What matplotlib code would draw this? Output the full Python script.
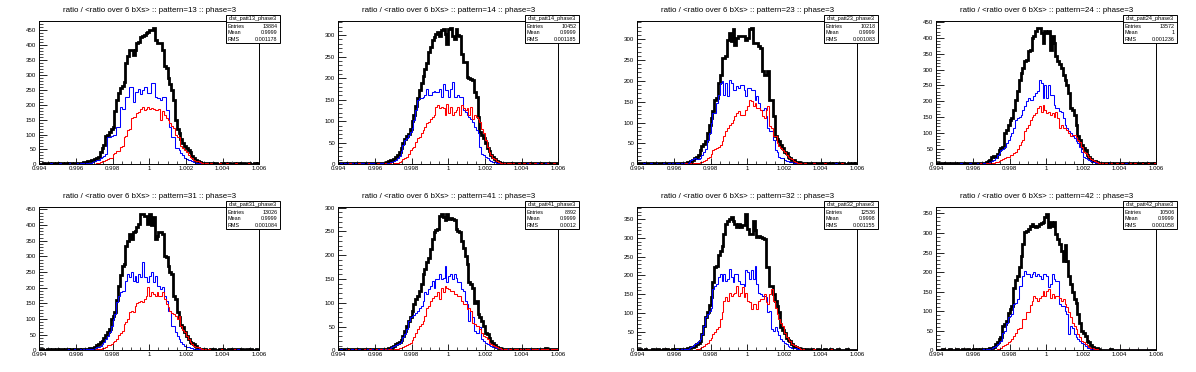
import matplotlib
matplotlib.use("Agg")
import matplotlib.pyplot as plt
import numpy as np
from matplotlib.ticker import MultipleLocator, FixedLocator, FixedFormatter
from matplotlib.patches import Rectangle

plt.rcParams['font.family'] = ['Liberation Sans', 'DejaVu Sans']

# ---------------- data ----------------
x_min, x_max, n_bins = 0.994, 1.006, 120
xtick_vals = [0.994, 0.996, 0.998, 1.0, 1.002, 1.004, 1.006]
xtick_labels = ["0.994", "0.996", "0.998", "1", "1.002", "1.004", "1.006"]

patterns = ["13", "14", "23", "24", "31", "41", "32", "42"]
entries = ["13884", "10452", "10218", "13572", "13026", "8892", "12536", "10506"]
means = ["0.9999", "0.9999", "0.9999", "1", "0.9999", "0.9999", "0.9998", "0.9999"]
rms = ["0.001178", "0.001185", "0.001083", "0.001236", "0.001084", "0.0012", "0.001155", "0.001058"]

p13_black = [2,1,3,2,2,4,1,3,2,3,2,4,3,2,3,1,3,4,2,3,3,4,5,6,8,
             8,10,12,14,15,17,20,25,40,55,65,95,100,110,118,126,180,215,240,255,
             262,275,339,365,384,384,366,385,406,410,428,430,435,440,445,450,452,458,416,406,
             406,406,383,330,322,290,270,250,215,150,120,105,85,70,60,55,48,40,28,22,
             15,12,8,6,5,4,
             3,2,3,4,2,3,1,2,3,2,4,2,3,2,1,3,2,3,2,4,3,2,2,3,1,2,3,2,3]
p13_blue = [1,2,1,0,2,1,3,1,2,1,2,3,1,2,2,1,3,2,1,2,3,2,3,3,4,4,5,
            5,6,8,10,14,16,20,23,28,35,90,92,95,100,98,126,126,192,185,185,
            225,225,260,260,210,244,244,254,237,248,260,260,238,238,272,272,227,221,221,215,
            227,227,182,182,126,93,93,54,54,48,37,30,22,18,15,15,12,9,6,4,3,
            2,2,1,3,1,2,1,0,2,1,1,2,0,1,2,1,1,0,2,1,1,2,1,0,1,2,1,1,0,1,2,1]
p13_red = [0,1,0,1,2,0,1,1,0,2,1,0,1,2,1,0,1,1,2,0,1,2,1,1,2,1,2,1,2,2,
           2,3,5,8,10,12,15,18,20,22,35,37,43,43,58,60,92,95,115,118,
           154,160,160,171,175,187,192,182,187,192,185,190,185,182,182,187,150,180,165,155,
           150,140,130,122,100,93,90,62,55,48,40,32,26,20,16,12,10,8,6,5,4,
           3,2,3,1,2,2,1,3,2,1,2,3,1,2,1,2,3,1,2,1,2,2,1,3,2,1,2,1,2]

p14_black = [3,2,2,3,1,4,2,3,2,3,4,2,3,2,3,4,2,3,3,2,4,3,3,4,3,
             4,5,7,9,10,12,18,22,28,37,50,58,65,70,83,100,114,135,155,172,
             190,205,222,235,262,272,288,296,303,307,299,311,315,303,280,315,317,299,292,315,
             300,299,257,238,238,203,200,199,195,168,157,110,76,68,60,49,37,30,22,16,
             12,8,6,4,3,
             3,2,3,2,1,3,2,3,2,1,3,2,2,3,1,2,3,2,2,3,1,2,2,3,2,1,3,2,2,3]
p14_blue = [1,2,1,2,0,2,1,3,1,2,2,1,2,3,1,2,1,3,2,2,1,3,2,2,3,3,
            3,4,5,6,7,10,15,20,30,45,56,62,68,75,85,103,126,149,153,155,
            157,160,176,160,160,168,170,168,168,176,157,187,172,172,157,176,191,157,157,160,
            157,157,126,122,114,110,106,99,87,80,72,41,25,22,18,14,10,8,6,5,4,3,
            2,1,2,1,0,1,2,1,1,0,2,1,1,0,1,2,1,0,1,1,2,1,0,1,1,2,1,0,1,1,0,1]
p14_red = [0,1,0,1,1,0,2,1,0,1,1,2,0,1,1,0,2,1,1,0,1,2,1,1,0,2,1,1,2,1,
           2,2,4,6,8,12,15,18,25,33,38,41,52,60,64,72,80,87,95,99,
           106,110,114,133,137,130,133,130,114,141,118,133,114,122,126,133,114,137,130,126,
           130,114,133,106,114,110,106,99,83,72,56,41,29,22,14,12,8,5,3,2,
           2,1,2,3,1,2,1,1,2,0,1,2,1,1,2,1,0,2,1,1,2,1,1,0,2,1,1,2,1,1]

p23_black = [2,3,2,1,3,2,2,3,1,2,3,2,2,1,3,2,3,2,2,3,2,3,2,3,3,
             3,4,5,6,9,10,14,18,22,35,43,49,55,75,95,110,127,155,159,195,
             215,255,255,259,299,315,295,323,287,303,307,307,308,307,299,303,323,327,291,291,
             291,283,279,223,215,215,223,155,155,115,67,60,55,47,39,30,26,18,14,10,
             10,6,5,5,3,2,
             2,1,2,3,1,2,1,2,2,1,2,1,3,1,2,1,2,1,2,2,1,2,1,1,2,1,2,1,2]
p23_blue = [1,0,1,2,1,1,0,2,1,1,2,1,0,1,2,1,1,2,1,2,1,2,2,1,2,3,3,
            4,6,10,12,14,12,12,16,22,30,36,58,75,100,123,123,147,167,195,199,
            167,195,163,203,195,179,179,187,183,191,191,179,163,183,183,179,179,155,163,147,
            131,131,135,115,87,79,79,58,34,30,18,16,14,10,9,7,6,5,4,3,2,
            1,2,1,0,1,1,0,1,2,1,0,1,1,0,1,0,1,1,0,1,2,0,1,1,0,1,0,1,1,0,1,1]
p23_red = [0,0,1,0,1,0,0,1,0,1,0,1,1,0,0,1,0,1,0,1,1,0,1,1,0,1,2,1,1,2,
           2,2,3,4,5,6,8,10,14,18,25,34,36,38,42,47,55,67,80,87,
           95,99,107,115,123,127,119,119,119,131,139,155,151,139,147,135,135,131,115,111,
           131,139,91,87,67,67,51,43,40,34,30,22,17,14,12,8,6,4,3,2,
           1,2,1,0,1,1,2,0,1,1,0,1,2,1,0,1,1,0,1,1,0,2,1,0,1,1,0,1,1,0]

p24_black = [3,2,4,3,2,3,4,2,3,3,4,2,3,4,3,2,4,3,5,3,4,3,5,4,
             4,4,5,8,10,15,24,26,24,33,45,51,56,98,110,125,140,146,173,204,
             231,268,290,305,326,331,358,363,400,406,421,432,432,416,385,421,416,421,363,406,
             385,342,326,316,305,284,268,250,226,178,173,157,125,88,77,60,51,46,30,24,
             16,12,10,8,5,4,
             4,3,3,2,4,3,2,3,4,3,5,4,3,4,5,4,3,2,4,3,3,4,2,3,3,2,4,3,2,3]
p24_blue = [1,2,1,2,1,0,2,1,2,1,2,2,1,3,2,1,2,2,3,1,2,2,3,2,3,3,3,4,
            4,6,10,14,19,28,35,46,50,56,67,77,90,100,114,141,145,151,157,173,
            183,199,210,204,204,215,226,231,268,257,210,252,210,252,220,220,188,178,178,170,
            167,146,125,114,104,100,88,83,75,67,56,40,24,19,16,14,10,8,6,5,4,
            3,2,2,1,2,3,1,2,1,2,1,2,2,1,3,2,1,1,2,1,2,1,1,2,1,0,1,2,1,1,2]
p24_red = [0,1,1,0,2,1,0,1,2,1,1,0,2,1,1,2,0,1,2,1,1,2,1,2,3,1,2,3,2,3,
           3,5,6,8,11,14,17,19,22,24,28,30,35,40,50,61,70,77,104,115,
           125,141,150,157,162,178,183,167,188,173,162,167,157,162,151,167,146,114,125,114,
           114,109,98,88,93,93,85,77,72,56,40,35,30,22,16,13,10,7,5,4,
           3,2,3,1,2,3,2,1,3,2,2,3,1,2,2,3,1,2,3,2,2,1,3,2,2,3,1,2,2,3]

p31_black = [2,3,2,2,4,3,2,3,2,3,2,4,3,2,3,3,2,3,2,3,4,3,2,3,
             3,4,5,6,8,8,10,16,19,25,30,40,50,57,67,99,110,121,160,206,
             240,270,276,334,350,372,356,377,382,395,404,436,436,430,430,405,436,400,425,356,
             366,377,377,372,302,297,270,250,244,174,163,121,105,80,73,57,46,35,28,22,
             19,14,8,5,4,3,
             3,2,2,3,2,3,2,1,3,2,3,2,2,3,2,4,3,5,3,2,3,2,2,3,2,3,2,2,3,2]
p31_blue = [1,1,2,1,2,0,1,2,1,1,2,1,2,1,2,3,1,2,2,3,2,2,3,2,3,3,4,4,
            4,5,7,10,12,14,20,25,35,45,57,78,99,115,153,174,185,190,190,222,
            244,233,249,222,238,217,244,233,281,233,233,217,238,249,217,238,206,206,196,201,
            174,158,126,126,78,78,57,45,35,25,19,14,10,9,7,6,5,5,4,3,
            2,3,1,2,1,2,1,2,2,1,1,2,1,2,1,1,2,1,2,1,3,1,1,2,1,1,2,1,1,2,1,1]
p31_red = [0,1,0,1,1,0,1,2,0,1,1,0,1,2,1,0,1,1,2,1,1,2,1,1,2,1,2,2,1,2,
           2,3,4,5,6,8,12,16,18,19,25,30,35,48,55,62,83,89,100,121,
           126,121,142,150,153,158,153,163,174,201,174,185,179,174,185,174,174,185,163,147,
           137,126,120,115,110,99,110,78,65,57,46,35,25,19,14,11,9,7,5,4,3,
           2,3,2,1,2,2,1,2,3,1,2,1,2,2,1,3,2,1,2,2,1,2,1,2,2,1,2,1,2]

p41_black = [2,1,3,2,2,1,3,2,2,3,1,2,3,2,2,3,2,1,3,2,2,3,2,3,
             3,3,3,4,5,6,10,13,16,18,22,30,41,51,62,69,83,97,107,115,
             125,140,160,171,185,195,213,234,248,252,255,283,287,280,273,287,276,278,276,273,
             255,250,248,230,216,199,181,143,140,132,100,104,76,70,62,51,37,34,25,20,
             16,11,6,5,4,3,
             2,3,2,1,2,3,2,2,1,3,2,2,1,2,3,2,2,3,1,2,2,3,2,4,2,3,2,2,3,2]
p41_blue = [1,2,1,1,2,1,0,2,1,2,1,2,1,1,2,2,1,3,2,1,2,3,2,2,3,2,3,3,
            4,6,8,11,14,16,20,27,35,44,62,69,72,75,79,83,90,93,104,122,
            118,129,136,146,132,150,150,160,150,153,178,143,157,160,150,160,153,143,143,129,
            125,104,97,62,83,70,41,37,37,48,23,20,16,14,11,9,7,6,5,4,
            3,2,2,1,2,1,2,1,1,2,1,2,1,1,2,1,2,1,1,3,1,2,1,2,1,1,2,1,3,1,2,1]
p41_red = [0,1,1,0,1,2,0,1,1,2,1,0,1,1,2,0,1,2,1,1,2,1,1,2,1,2,1,2,2,1,
           2,2,3,4,5,6,8,11,14,16,22,27,37,44,51,55,62,72,90,93,
           104,111,115,115,122,107,132,122,136,132,129,125,125,118,118,115,115,104,97,97,
           86,90,83,58,55,51,51,44,37,30,27,23,16,13,11,8,6,5,4,3,
           2,3,1,2,2,1,3,2,1,2,2,1,3,2,1,2,1,2,3,1,2,2,1,3,2,1,2,2,1,2]

p32_black = [2,3,1,2,3,2,2,1,3,2,2,3,2,1,3,2,3,2,2,3,2,3,3,2,3,
             3,4,5,6,8,10,12,16,20,25,43,65,88,101,120,141,181,221,226,253,
             265,279,311,338,346,351,355,346,338,329,338,329,333,333,364,324,311,311,346,320,
             302,306,302,300,297,221,221,172,172,150,132,119,101,61,55,47,34,28,25,16,
             12,9,7,5,4,3,
             2,3,2,2,3,1,2,3,2,2,1,3,2,2,3,2,1,2,3,2,2,1,2,3,2,2,1,2,2]
p32_blue = [1,2,1,0,2,1,2,1,1,2,1,2,0,1,2,1,2,1,2,2,1,3,2,2,3,3,3,
            4,5,8,12,16,20,25,29,43,65,88,96,105,114,163,172,177,195,204,186,
            204,186,190,217,195,181,204,204,186,177,177,172,213,208,190,213,190,226,177,154,
            150,146,146,141,101,105,56,52,61,52,40,29,25,20,16,12,10,7,6,5,4,
            3,2,1,2,1,2,1,1,2,0,1,2,1,1,0,2,1,1,2,1,0,1,2,1,1,2,0,1,1,2,1,1]
p32_red = [0,1,0,1,1,0,2,1,0,1,1,2,0,1,1,0,1,2,1,0,1,1,2,1,1,0,2,1,1,2,1,
           2,3,4,5,8,12,16,20,28,34,43,50,56,61,83,101,132,141,132,154,
           146,150,154,172,146,154,168,141,154,132,128,110,123,123,110,132,137,137,150,128,
           123,150,163,132,114,96,83,74,65,47,35,29,25,18,14,12,8,6,4,3,
           2,1,2,2,1,3,1,2,1,2,2,1,2,1,3,2,1,2,1,2,2,1,2,1,2,1,2,2,1]

p42_black = [2,1,2,3,2,1,2,3,2,2,1,3,2,2,3,1,2,3,2,2,3,2,3,2,3,3,2,
             3,4,5,6,8,16,22,28,33,62,67,75,95,105,114,160,180,190,212,242,
             272,302,306,311,318,324,319,315,319,324,326,328,341,349,315,328,319,328,298,285,
             272,255,229,268,229,191,170,148,131,122,92,71,50,45,37,24,20,13,9,6,
             5,3,2,
             2,1,2,2,1,3,1,2,2,1,2,1,1,2,2,1,2,1,1,2,1,2,1,1,2,1,2,1,1,2]
p42_blue = [1,0,1,2,1,1,0,1,2,1,1,0,2,1,1,2,1,0,2,1,1,2,1,2,2,3,2,3,3,
            4,6,8,12,15,20,24,45,50,70,84,88,92,118,122,130,165,165,191,204,
            195,195,187,195,199,191,195,191,182,195,195,191,161,169,195,182,178,178,118,114,
            114,101,92,41,62,58,41,35,28,24,18,15,10,7,5,4,3,
            2,1,2,1,0,1,1,0,1,2,0,1,1,0,1,1,0,2,1,0,1,1,0,1,0,1,1,0,1,1,0,1,0,1]
p42_red = [0,0,1,0,1,0,1,1,0,1,0,1,1,0,1,0,1,1,0,1,2,0,1,1,0,1,1,2,1,1,2,1,
           2,3,4,7,11,13,15,20,24,28,37,45,54,58,58,80,80,97,97,115,
           127,140,135,127,135,140,152,140,152,157,135,144,135,140,140,135,127,131,118,110,
           97,84,71,62,54,41,33,24,20,15,13,9,7,5,3,3,
           2,1,1,0,1,2,1,0,1,1,0,1,2,0,1,1,0,1,1,0,2,1,0,1,1,0,1,1,0,1,1,0]

black_series = [p13_black, p14_black, p23_black, p24_black, p31_black, p41_black, p32_black, p42_black]
blue_series = [p13_blue, p14_blue, p23_blue, p24_blue, p31_blue, p41_blue, p32_blue, p42_blue]
red_series = [p13_red, p14_red, p23_red, p24_red, p31_red, p41_red, p32_red, p42_red]


def fix(v):
    v = list(v)[:n_bins]
    return np.array(v + [0] * (n_bins - len(v)), dtype=float)


# ---------------- layout ----------------
W, H = 1196, 372
fig = plt.figure(figsize=(W / 100, H / 100), dpi=100)
pad_w, pad_h = 299, 186
ax_l, ax_w = 39.3, 220
ax_top, ax_bot = 21, 164.3

edges = np.linspace(x_min, x_max, n_bins + 1)

for k in range(8):
    r, c = divmod(k, 4)
    x0 = c * pad_w
    y0 = r * pad_h
    ax = fig.add_axes([(x0 + ax_l) / W, 1 - (y0 + ax_bot) / H, ax_w / W, (ax_bot - ax_top) / H])
    b = fix(black_series[k])
    ax.stairs(b, edges, color='black', lw=2.0, baseline=None)
    ax.stairs(fix(blue_series[k]), edges, color=(0, 0, 1), lw=0.75, baseline=None)
    ax.stairs(fix(red_series[k]), edges, color=(1, 0, 0), lw=0.75, baseline=None)
    ax.set_xlim(x_min, x_max)
    ax.set_ylim(0, 1.05 * b.max())
    ax.xaxis.set_major_locator(FixedLocator(xtick_vals))
    ax.xaxis.set_major_formatter(FixedFormatter(xtick_labels))
    ax.xaxis.set_minor_locator(MultipleLocator(0.0005))
    ax.yaxis.set_major_locator(MultipleLocator(50))
    ax.yaxis.set_minor_locator(MultipleLocator(10))
    ax.tick_params(axis='x', which='major', direction='in', length=4, width=0.6,
                   labelsize=4.4, pad=1.2, top=False)
    ax.tick_params(axis='x', which='minor', direction='in', length=2, width=0.5, top=False)
    ax.tick_params(axis='y', which='major', direction='in', length=6, width=0.6,
                   labelsize=4.4, pad=2.3, right=False)
    ax.tick_params(axis='y', which='minor', direction='in', length=3, width=0.5, right=False)
    for s in ax.spines.values():
        s.set_linewidth(0.7)

    # title
    title = "ratio / <ratio over 6 bXs> :: pattern=%s :: phase=3" % patterns[k]
    fig.text((x0 + pad_w / 2) / W, 1 - (y0 + 10) / H, title, ha='center', va='center',
             fontsize=5.7)

    # stats box
    bx0, bx1 = x0 + 225.5, x0 + 279.5
    by0, by1 = y0 + 15, y0 + 43
    sep = y0 + 21.5
    fig.patches.append(Rectangle((bx0 / W, 1 - by1 / H), (bx1 - bx0) / W, (by1 - by0) / H,
                                 transform=fig.transFigure, facecolor='white',
                                 edgecolor='black', lw=0.7, zorder=5))
    fig.lines.append(plt.Line2D([bx0 / W, bx1 / W], [1 - sep / H, 1 - sep / H],
                                transform=fig.transFigure, color='black', lw=0.6, zorder=6))
    fig.text((bx0 + bx1) / 2 / W, 1 - (y0 + 18.2) / H, "dist_patt%s_phase3" % patterns[k],
             ha='center', va='center', fontsize=4.0, zorder=7)
    rows = [("Entries", entries[k]), ("Mean", means[k]), ("RMS", rms[k])]
    for j, (lab, val) in enumerate(rows):
        yy = 1 - (y0 + 26.2 + 6.6 * j) / H
        fig.text((bx0 + 2) / W, yy, lab, ha='left', va='center', fontsize=3.9, zorder=7)
        fig.text((bx1 - 2) / W, yy, val, ha='right', va='center', fontsize=3.9, zorder=7)

fig.savefig("out.png", dpi=100, facecolor='white')
